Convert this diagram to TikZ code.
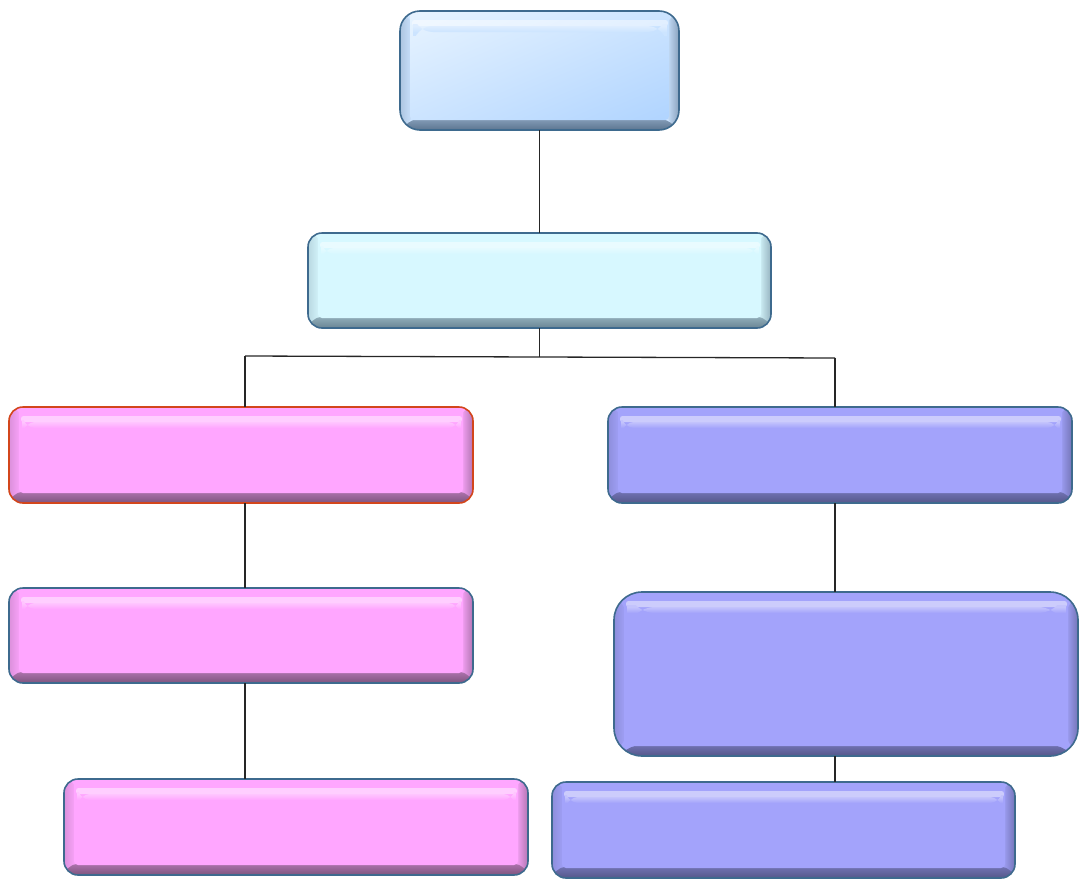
\documentclass[tikz,border=0pt]{standalone}
\usetikzlibrary{calc,shadings}
\definecolor{bordBlue}{HTML}{3E6A8E}
\definecolor{bordRed}{HTML}{D3461C}
\definecolor{pinkBase}{HTML}{FFA6FF}
\definecolor{pinkDark}{HTML}{7E557E}
\definecolor{violBase}{HTML}{A3A3FB}
\definecolor{violDark}{HTML}{55578A}
\definecolor{cyanBase}{HTML}{D7F8FF}
\definecolor{cyanDark}{HTML}{6A8594}
\definecolor{skyA}{HTML}{E8F4FF}
\definecolor{skyM}{HTML}{CCE4FF}
\definecolor{skyB}{HTML}{B0D4FF}
\definecolor{skyDark}{HTML}{5C7590}
\tikzset{
  bvface/.style={fill=white},
  bevel/.style n args={4}{draw=#1, line width=1.6pt, rounded corners=#4, fill=#2,
    inner sep=0pt, outer sep=0pt, bvface/.style={fill=#3},
    path picture={
      \fill[#3] (path picture bounding box.south west) rectangle
        (path picture bounding box.north east);
      \shade[left color=#3!72!#2, right color=#3]
        (path picture bounding box.south west) rectangle
        ([shift={(13pt,0pt)}]path picture bounding box.north west);
      \shade[left color=#3, right color=#3!40!#2]
        ([shift={(-13pt,0pt)}]path picture bounding box.south east) rectangle
        (path picture bounding box.north east);
      \shade[top color=#3!35!#2, bottom color=#2]
        (path picture bounding box.south west) rectangle
        ([shift={(0pt,11pt)}]path picture bounding box.south east);
      \path[bvface, rounded corners=4pt]
        ([shift={(10pt,10pt)}]path picture bounding box.south west) rectangle
        ([shift={(-10pt,0pt)}]path picture bounding box.north east);
      \shade[top color=white, bottom color=white, opacity=.45, rounded corners=2.5pt]
        ([shift={(12pt,-9pt)}]path picture bounding box.north west) rectangle
        ([shift={(-11pt,-15pt)}]path picture bounding box.north east);
      \shade[top color=#3!65!white, bottom color=#3]
        ([shift={(13pt,-15pt)}]path picture bounding box.north west) rectangle
        ([shift={(-12pt,-21pt)}]path picture bounding box.north east);
    }},
  link/.style={line width=1.3pt, draw=black!85}
}
\begin{document}
\begin{tikzpicture}[x=1pt,y=-1pt]
\useasboundingbox (0,0) rectangle (1081,889);
\node[bevel={bordBlue}{skyDark}{skyM}{20pt},
      bvface/.style={upper left=skyA, lower right=skyB, upper right=skyM, lower left=skyM},
      minimum width=279pt, minimum height=119pt] (top) at (539.5,70.5) {};
\node[bevel={bordBlue}{cyanDark}{cyanBase}{14pt}, minimum width=463pt, minimum height=95pt] (mid) at (539.5,280.5) {};
\node[bevel={bordRed}{pinkDark}{pinkBase}{14pt}, minimum width=464pt, minimum height=96pt] (L1) at (241,455) {};
\node[bevel={bordBlue}{violDark}{violBase}{14pt}, minimum width=464pt, minimum height=96pt] (R1) at (840,455) {};
\node[bevel={bordBlue}{pinkDark}{pinkBase}{14pt}, minimum width=464pt, minimum height=95pt] (L2) at (241,635.5) {};
\node[bevel={bordBlue}{violDark}{violBase}{28pt}, minimum width=464pt, minimum height=164pt] (R2) at (846,674) {};
\node[bevel={bordBlue}{pinkDark}{pinkBase}{14pt}, minimum width=464pt, minimum height=96pt] (L3) at (296,827) {};
\node[bevel={bordBlue}{violDark}{violBase}{14pt}, minimum width=463pt, minimum height=96pt] (R3) at (783.5,830) {};
\coordinate (busC) at (539.5,357);
\coordinate (busL) at (245,356);
\coordinate (busR) at (835,358);
\draw[link] (top.south) -- (mid.north);
\draw[link] (mid.south) -- (busC);
\draw[link] (busL) -- (busR);
\draw[link] (busL) -- (busL |- L1.north);
\draw[link] (busR) -- (busR |- R1.north);
\draw[link] (L1.south -| busL) -- (L2.north -| busL);
\draw[link] (L2.south -| busL) -- (L3.north -| busL);
\draw[link] (R1.south -| busR) -- (R2.north -| busR);
\draw[link] (R2.south -| busR) -- (R3.north -| busR);
\end{tikzpicture}
\end{document}
